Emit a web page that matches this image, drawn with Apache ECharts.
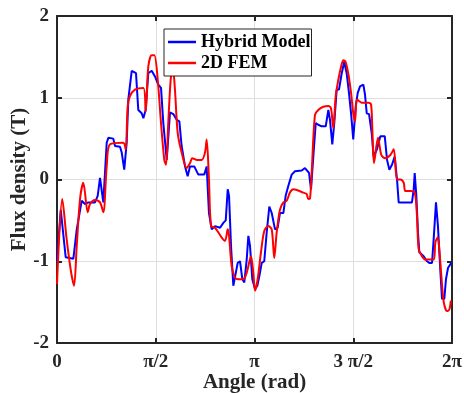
<!DOCTYPE html>
<html><head><meta charset="utf-8">
<script src="https://cdn.jsdelivr.net/npm/echarts@6/dist/echarts.min.js"></script>
<style>html,body{margin:0;padding:0;background:#fff}#c{width:464px;height:393px}</style>
</head><body><div id="c"></div>
<script>
var xTickLabels = ['0', 'π/2', 'π', '3 π/2', '2π'];
var seriesNames = ['Hybrid Model', '2D FEM'];
// angle in degrees (0..360 == 0..2π), flux density in T
var hybridAngle = [0,3.4,7.9,14.9,18.0,22.5,25.5,28.5,34.6,37.1,39.2,42.2,45.3,46.8,51.3,52.9,57.4,59.0,61.3,63.5,65.0,68.1,72.0,74.1,77.2,78.7,80.8,83.2,86.3,89.3,92.3,94.8,96.9,100.0,103.0,106.0,109.1,111.5,113.6,116.7,119.1,121.2,125.1,128.8,134.2,136.4,138.5,141.0,144.0,148.6,151.6,153.8,155.6,156.8,158.6,160.7,162.2,164.7,166.8,168.9,170.7,172.9,174.4,175.9,178.0,180.5,182.6,185.0,186.6,188.9,191.1,193.5,195.7,198.7,201.1,203.2,206.3,208.4,210.8,213.9,216.9,223.0,226.0,227.6,229.7,231.5,233.6,235.8,238.1,241.2,244.9,247.3,248.8,250.9,252.7,254.9,257.0,259.5,261.8,264.0,266.1,268.0,270.0,272.2,274.1,276.2,279.2,280.7,282.3,284.4,286.8,288.6,291.6,294.7,298.7,300.8,302.9,305.3,307.8,309.9,311.4,316.0,323.5,325.1,326.0,327.5,329.0,330.2,334.2,337.2,339.3,341.8,343.3,345.4,347.2,349.3,350.9,353.0,354.5,356.4,357.6,359.4];
var hybridValue = [-1.00,-0.37,-0.95,-0.97,-0.61,-0.26,-0.30,-0.28,-0.28,-0.20,0.02,-0.28,0.45,0.51,0.50,0.41,0.40,0.33,0.12,0.45,0.98,1.33,1.30,0.85,0.81,0.75,0.85,1.30,1.33,1.26,1.16,1.12,0.69,0.24,0.82,0.80,0.73,0.71,0.41,0.16,0.04,0.16,0.16,0.06,0.06,0.16,-0.41,-0.61,-0.57,-0.59,-0.53,-0.50,-0.12,-0.20,-0.81,-1.30,-1.30,-1.02,-1.00,-1.22,-1.26,-0.98,-0.69,-0.81,-1.22,-1.34,-1.30,-1.14,-1.02,-1.00,-0.65,-0.33,-0.41,-0.61,-0.59,-0.41,-0.41,-0.20,-0.08,0.06,0.10,0.11,0.14,0.16,0.08,-0.12,0.28,0.69,0.67,0.65,0.65,0.85,0.73,0.43,0.69,1.10,1.10,1.30,1.44,1.30,1.06,0.81,0.49,0.89,1.06,1.14,1.16,1.04,0.81,0.80,0.57,0.28,0.37,0.53,0.53,0.24,0.12,0.18,0.28,0.00,-0.28,-0.28,-0.28,-0.12,0.08,-0.20,-0.65,-0.89,-0.94,-1.00,-1.02,-1.02,-0.73,-0.28,-0.57,-1.10,-1.46,-1.46,-1.22,-1.08,-1.10,-1.02];
var femAngle = [0,4.8,8.8,12.8,15.5,18.0,21.0,24.0,28.0,30.1,34.6,39.2,42.2,45.3,48.3,60.4,62.6,64.4,66.5,71.1,78.7,80.8,83.2,86.3,88.7,91.8,94.8,97.8,99.4,101.4,103.6,105.5,107.5,110.0,113.6,118.2,121.2,123.3,127.3,131.9,134.9,136.4,138.5,140.4,144.0,150.1,153.2,155.6,156.8,159.2,162.2,165.3,169.8,172.9,176.8,178.9,180.5,182.9,185.9,188.9,192.5,195.7,198.0,200.2,203.2,206.3,209.3,212.3,215.3,224.4,227.6,229.0,230.6,232.1,235.1,238.1,242.7,247.3,249.7,251.8,254.0,256.4,258.9,261.0,263.0,265.4,268.0,270.0,271.6,273.2,275.2,277.7,283.7,286.2,287.4,288.9,292.6,295.6,299.2,303.8,306.9,309.9,312.9,316.0,317.4,322.0,326.0,328.1,329.6,332.7,335.7,343.3,344.8,347.0,348.4,350.3,352.5,355.5,357.6,358.9];
var femValue = [-1.28,-0.24,-0.73,-1.13,-1.30,-0.81,-0.24,-0.04,-0.40,-0.30,-0.25,-0.28,-0.40,0.16,0.43,0.45,0.37,0.89,1.02,1.10,1.12,0.83,1.38,1.52,1.52,1.22,0.69,0.24,0.18,0.69,1.22,1.38,1.10,0.57,0.33,0.14,0.20,0.26,0.24,0.24,0.33,0.49,0.00,-0.57,-0.59,-0.71,-0.75,-0.61,-0.69,-1.06,-1.20,-1.22,-1.22,-1.14,-0.94,-1.14,-1.36,-1.22,-0.89,-0.63,-0.57,-0.61,-0.96,-0.65,-0.37,-0.28,-0.26,-0.16,-0.12,-0.16,-0.18,-0.24,-0.23,0.08,0.79,0.85,0.89,0.90,0.87,0.63,1.02,1.22,1.38,1.46,1.44,1.30,1.06,0.81,0.71,0.98,0.96,0.94,0.94,0.92,0.61,0.20,0.51,0.30,0.26,0.30,0.37,0.00,0.00,-0.04,-0.14,-0.14,-0.16,-0.45,-0.85,-0.94,-0.98,-0.98,-0.77,-0.71,-0.85,-1.18,-1.50,-1.61,-1.59,-1.48];

function pairs(xs, ys){ return xs.map(function(x,i){ return [x, ys[i]]; }); }
var FONT = 'Liberation Serif';
var chart = echarts.init(document.getElementById('c'), null, {renderer:'canvas'});
var axisLine = {show:true, onZero:false, lineStyle:{color:'#262626', width:2}};
var tick = {show:true, inside:true, length:5, lineStyle:{color:'#262626', width:2}};
var split = {show:true, lineStyle:{color:'#dedede', width:1}};
chart.setOption({
  animation:false,
  backgroundColor:'#fff',
  grid:{left:57, right:12, top:16, bottom:50, containLabel:false, outerBoundsMode:'none'},
  legend:{
    left:164, top:29, orient:'vertical',
    data:[{name:seriesNames[0]},{name:seriesNames[1]}],
    icon:'rect', itemWidth:28, itemHeight:2.5, itemGap:3,
    backgroundColor:'#fff', borderColor:'#262626', borderWidth:1, borderRadius:0,
    padding:[4,1,4,4],
    textStyle:{fontFamily:FONT, fontWeight:'bold', fontSize:18, color:'#000'}
  },
  xAxis:[{
    type:'value', min:0, max:360, interval:90,
    name:'Angle (rad)', nameLocation:'middle', nameGap:29, nameMoveOverlap:false,
    nameTextStyle:{fontFamily:FONT, fontWeight:'bold', fontSize:21, color:'#262626'},
    axisLine:axisLine, axisTick:tick, splitLine:split,
    axisLabel:{margin:10, fontFamily:FONT, fontWeight:'bold', fontSize:19, color:'#262626',
      formatter:function(v){ return xTickLabels[Math.round(v/90)]; }}
  },{
    type:'value', position:'top', min:0, max:360, interval:90,
    axisLine:axisLine, axisTick:tick, splitLine:{show:false}, axisLabel:{show:false}
  }],
  yAxis:[{
    type:'value', min:-2, max:2, interval:1,
    name:'Flux density (T)', nameLocation:'middle', nameGap:27, nameRotate:90, nameMoveOverlap:false,
    nameTextStyle:{fontFamily:FONT, fontWeight:'bold', fontSize:21, color:'#262626'},
    axisLine:axisLine, axisTick:tick, splitLine:split,
    axisLabel:{margin:8, fontFamily:FONT, fontWeight:'bold', fontSize:19, color:'#262626'}
  },{
    type:'value', position:'right', min:-2, max:2, interval:1,
    axisLine:axisLine, axisTick:tick, splitLine:{show:false}, axisLabel:{show:false}
  }],
  series:[
    {name:seriesNames[0], type:'line', data:pairs(hybridAngle, hybridValue), showSymbol:false, symbol:'none',
      lineStyle:{color:'#0000ff', width:2}, itemStyle:{color:'#0000ff'}},
    {name:seriesNames[1], type:'line', data:pairs(femAngle, femValue), showSymbol:false, symbol:'none', smooth:0.3,
      lineStyle:{color:'#ff0000', width:2}, itemStyle:{color:'#ff0000'}}
  ]
});
</script></body></html>
